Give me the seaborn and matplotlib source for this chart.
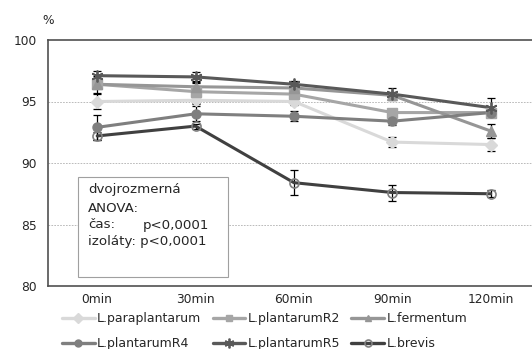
import numpy as np
import pandas as pd
import matplotlib
matplotlib.use("Agg")
import matplotlib.pyplot as plt
import seaborn as sns
from matplotlib.patches import Rectangle
from matplotlib.lines import Line2D

times = ["0min", "30min", "60min", "90min", "120min"]
series = ["L.paraplantarum", "L.plantarumR2", "L.fermentum",
          "L.plantarumR4", "L.plantarumR5", "L.brevis"]

para = [95.0, 95.1, 95.0, 91.7, 91.5]
para_err = [0.6, 0.3, 0.3, 0.4, 0.5]
r2 = [96.4, 95.8, 95.6, 94.1, 94.1]
r2_err = [0.7, 0.9, 0.3, 0.3, 0.3]
ferm = [96.4, 96.2, 96.1, 95.5, 92.6]
ferm_err = [0.3, 0.3, 0.3, 0.3, 0.6]
r4 = [92.9, 94.0, 93.8, 93.4, 94.1]
r4_err = [1.0, 0.6, 0.4, 0.3, 0.4]
r5 = [97.1, 97.0, 96.4, 95.6, 94.5]
r5_err = [0.4, 0.4, 0.3, 0.5, 0.8]
brevis = [92.2, 93.0, 88.4, 87.6, 87.5]
brevis_err = [0.35, 0.2, 1.0, 0.65, 0.3]

values = [para, r2, ferm, r4, r5, brevis]
errors = [para_err, r2_err, ferm_err, r4_err, r5_err, brevis_err]
colors = ["#d9d9d9", "#a6a6a6", "#969696", "#7f7f7f", "#595959", "#404040"]
markers = ["D", "s", "^", "o", (6, 2, 0), "o"]

rows = []
for s, v in zip(series, values):
    for i, (t, y) in enumerate(zip(times, v)):
        rows.append({"series": s, "time": t, "x": i, "value": y})
df = pd.DataFrame(rows)

sns.set_style("white")
plt.rcParams["font.family"] = ["DejaVu Sans"]

fig = plt.figure(figsize=(5.32, 3.49), dpi=100)
ax = fig.add_axes([48/532, 1-286/349, 1-48/532, (286-40)/349])

for y in [85, 90, 95]:
    ax.axhline(y, color="#b0b0b0", lw=0.6, ls=(0, (2, 1.5)), zorder=0)

handles = []
for s, v, e, c, m in zip(series, values, errors, colors, markers):
    sub = df[df["series"] == s]
    ax.errorbar(sub["x"], sub["value"], yerr=e, fmt="none", ecolor="black",
                elinewidth=0.9, capsize=3, capthick=0.9, zorder=2)
    sns.lineplot(data=sub, x="x", y="value", ax=ax, color=c, lw=2.2,
                 legend=False, zorder=3)
    if s == "L.brevis":
        mkw = dict(marker="o", markersize=6.5, markerfacecolor="none",
                   markeredgecolor="#808080", markeredgewidth=1.2)
    elif s == "L.plantarumR5":
        mkw = dict(marker=m, markersize=8.5, markerfacecolor=c,
                   markeredgecolor=c, markeredgewidth=1.3)
    else:
        mkw = dict(marker=m, markersize=6.5, markerfacecolor=c,
                   markeredgecolor=c)
    ax.plot(sub["x"], sub["value"], ls="none", zorder=4, **mkw)
    handles.append(Line2D([], [], color=c, lw=2.4, **{**mkw, "markersize": mkw["markersize"] - 1.5}))

ax.set_xlim(-0.5, 4.42)
ax.set_ylim(80, 100)
ax.set_yticks([80, 85, 90, 95, 100])
ax.set_xticks(range(5))
ax.set_xticklabels(times)
ax.set_xticks([0.5, 1.5, 2.5, 3.5], minor=True)
ax.tick_params(axis="x", which="major", length=0, labelsize=8.8, pad=5)
ax.tick_params(axis="x", which="minor", length=4, width=1, color="#404040", direction="out")
ax.tick_params(axis="y", length=5, width=1, color="#404040", direction="out",
               labelsize=8.8, pad=3)
ax.set_xlabel("")
ax.set_ylabel("")
for sp in ["left", "bottom", "top"]:
    ax.spines[sp].set_visible(True)
    ax.spines[sp].set_color("#505050")
    ax.spines[sp].set_linewidth(1.2)
ax.spines["right"].set_visible(False)

fig.text(48/532, 1-20/349, "%", ha="center", va="center", fontsize=8.8)

box = Rectangle((78/532, 1-277/349), 150/532, 100/349, transform=fig.transFigure,
                facecolor="white", edgecolor="#a0a0a0", lw=0.8, zorder=5)
fig.add_artist(box)
tkw = dict(fontsize=9.6, va="center", ha="left", zorder=6)
fig.text(88/532, 1-190/349, "dvojrozmerná", **tkw)
fig.text(88/532, 1-208/349, "ANOVA:", **tkw)
fig.text(88/532, 1-225/349, "čas:", **tkw)
fig.text(143/532, 1-225/349, "p<0,0001", **tkw)
fig.text(88/532, 1-242/349, "izoláty: p<0,0001", **tkw)

order = [0, 3, 1, 4, 2, 5]
fig.legend([handles[i] for i in order], [series[i] for i in order],
           ncol=3, loc="center left", bbox_to_anchor=(62/532, 1-331/349),
           frameon=False, fontsize=9, handlelength=2.6, handletextpad=0.2,
           columnspacing=0.9, labelspacing=0.95, borderpad=0, borderaxespad=0)

fig.savefig("out.png", dpi=100)
